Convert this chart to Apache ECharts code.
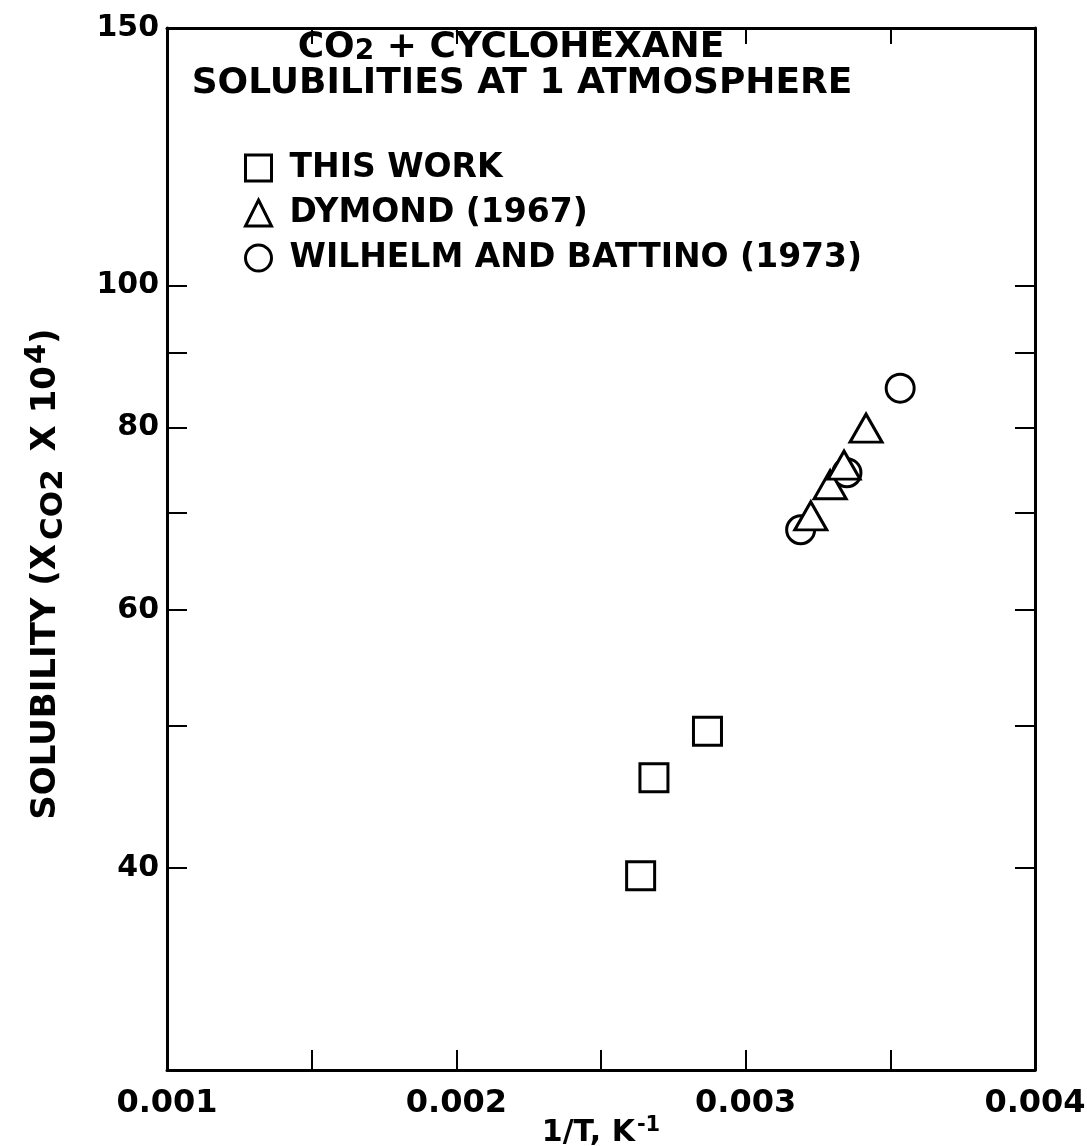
<!DOCTYPE html>
<html>
<head>
<meta charset="utf-8">
<script src="https://cdn.jsdelivr.net/npm/echarts@6.0.0/dist/echarts.min.js"></script>
<style>
html, body { margin: 0; padding: 0; background: #fff; }
#main { width: 1087px; height: 1146px; }
</style>
</head>
<body>
<div id="main"></div>
<script>
// 1/T (K^-1) and solubility (x_CO2 * 10^4)
var thisWorkX = [0.002637, 0.002683, 0.002868];
var thisWorkY = [39.5, 46.1, 49.6];
var dymondX = [0.003225, 0.003292, 0.003340, 0.003416];
var dymondY = [69.6, 73.1, 75.4, 79.9];
var wilhelmX = [0.003190, 0.003350, 0.003534];
var wilhelmY = [68.1, 74.5, 85.1];

// axis ticks / labels
var xLabels = [0.001, 0.002, 0.003, 0.004];
var xTicks = [0.0015, 0.002, 0.0025, 0.003, 0.0035];
var yLabels = [40, 60, 80, 100, 150];
var yTicks = [40, 50, 60, 70, 80, 90, 100];

var font = 'DejaVu Sans';

function pairs(xs, ys) {
    return xs.map(function (x, i) { return [x, ys[i]]; });
}

var myChart = echarts.init(document.getElementById('main'));

var frameLine = { show: true, lineStyle: { color: '#000', width: 3 } };
var tickStyle = { color: '#000', width: 2 };
var hollow = { color: '#fff', borderColor: '#000', borderWidth: 3, opacity: 1 };

function txt(size, extra) {
    var s = { fontFamily: font, fontWeight: 'bold', fontSize: size, color: '#000' };
    for (var k in extra) s[k] = extra[k];
    return s;
}

function xAxisCfg(pos, showLabel, tickLen) {
    return {
        type: 'value',
        position: pos,
        min: 0.001,
        max: 0.004,
        axisLine: frameLine,
        axisTick: { show: true, inside: true, length: tickLen, lineStyle: tickStyle, customValues: xTicks },
        axisLabel: txt(32, {
            show: showLabel, customValues: xLabels, margin: 18,
            formatter: function (v) { return v.toFixed(3); }
        }),
        splitLine: { show: false }
    };
}

function yAxisCfg(pos, showLabel) {
    return {
        type: 'log',
        logBase: 10,
        position: pos,
        min: 29.1,
        max: 150,
        axisLine: frameLine,
        axisTick: { show: true, inside: true, length: 20, lineStyle: tickStyle, customValues: yTicks },
        axisLabel: txt(30, {
            show: showLabel, customValues: yLabels, margin: 8,
            formatter: function (v) { return Math.round(v); }
        }),
        splitLine: { show: false },
        minorTick: { show: false }
    };
}

var xBottom = xAxisCfg('bottom', true, 20);
xBottom.name = '{t|1/T, K}{p|-1}';
xBottom.nameLocation = 'middle';
xBottom.nameGap = 45;
xBottom.nameMoveOverlap = false;
xBottom.nameTextStyle = {
    rich: {
        t: txt(30, { lineHeight: 36 }),
        p: txt(21, { lineHeight: 10, verticalAlign: 'top', padding: [0, 0, 0, 2] })
    }
};

var yLeft = yAxisCfg('left', true);
yLeft.name = '{t|SOLUBILITY (X}{s|CO2}{t| X 10}{p|4}{e|)}';
yLeft.nameLocation = 'middle';
yLeft.nameRotate = 90;
yLeft.nameGap = 98;
yLeft.nameMoveOverlap = false;
yLeft.nameTextStyle = {
    rich: {
        t: txt(34, { lineHeight: 46 }),
        s: txt(31, { lineHeight: 10, verticalAlign: 'bottom', padding: [0, 6, 0, 4] }),
        p: txt(29, { lineHeight: 10, verticalAlign: 'top', padding: [0, 0, 0, 2] }),
        e: txt(34, { lineHeight: 46, padding: [0, 50, 0, 0] })
    }
};

var option = {
    animation: false,
    backgroundColor: '#fff',
    title: {
        text: '{t|CO}{s|2}{e| + CYCLOHEXANE}\n{t|SOLUBILITIES AT 1 ATMOSPHERE}',
        left: 522,
        top: 30,
        padding: 0,
        textAlign: 'center',
        textStyle: {
            rich: {
                t: txt(36, { lineHeight: 36 }),
                s: txt(28, { lineHeight: 8, verticalAlign: 'bottom' }),
                e: txt(36, { lineHeight: 36, padding: [0, 22, 0, 0] })
            }
        }
    },
    legend: {
        orient: 'vertical',
        left: 244,
        top: 150,
        padding: 0,
        itemGap: 9,
        itemWidth: 26,
        itemHeight: 26,
        selectedMode: false,
        textStyle: txt(33, { lineHeight: 36, padding: [0, 0, 0, 13] }),
        data: [
            { name: 'THIS WORK', icon: 'rect', itemStyle: hollow },
            { name: 'DYMOND (1967)', icon: 'triangle', itemStyle: hollow },
            { name: 'WILHELM AND BATTINO (1973)', icon: 'circle', itemStyle: hollow }
        ]
    },
    grid: { left: 167, right: 52, top: 28, bottom: 76, containLabel: false, outerBoundsMode: 'none' },
    xAxis: [xBottom, xAxisCfg('top', false, 16)],
    yAxis: [yLeft, yAxisCfg('right', false)],
    series: [
        {
            name: 'THIS WORK', type: 'scatter', symbol: 'rect', symbolSize: 28,
            itemStyle: hollow, z: 2, data: pairs(thisWorkX, thisWorkY)
        },
        {
            name: 'WILHELM AND BATTINO (1973)', type: 'scatter', symbol: 'circle', symbolSize: 28,
            itemStyle: hollow, z: 3, data: pairs(wilhelmX, wilhelmY)
        },
        {
            name: 'DYMOND (1967)', type: 'scatter', symbol: 'triangle', symbolSize: [32, 28],
            itemStyle: hollow, z: 4, data: pairs(dymondX, dymondY)
        }
    ]
};

myChart.setOption(option);
</script>
</body>
</html>
